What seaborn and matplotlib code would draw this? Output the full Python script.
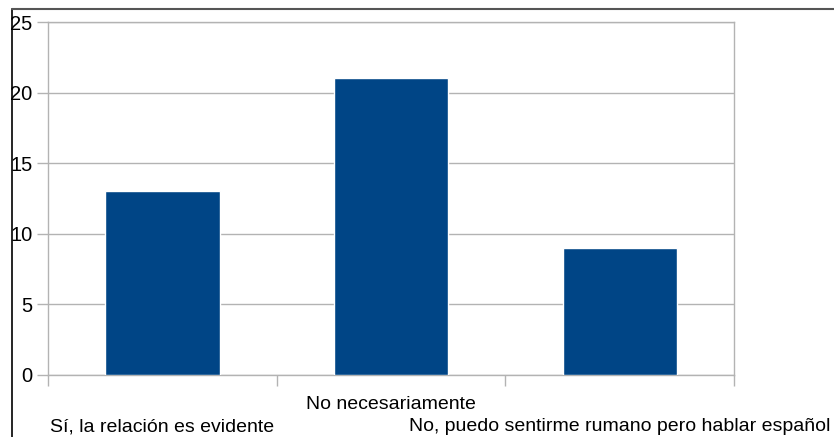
import numpy as np
import pandas as pd
import matplotlib
matplotlib.use("Agg")
import matplotlib.pyplot as plt
from matplotlib.lines import Line2D
from matplotlib.transforms import ScaledTranslation
import seaborn as sns

sns.set_style("white")
plt.rcParams['font.family'] = ['Liberation Sans', 'DejaVu Sans']

categories = ["Sí, la relación es evidente", "No necesariamente",
              "No, puedo sentirme rumano pero hablar español"]
values = [13, 21, 9]

df = pd.DataFrame({"respuesta": categories, "n": values})

fig = plt.figure(figsize=(8.34, 4.37), dpi=100)
ax = fig.add_axes([48/834, 1 - 375/437, (734 - 48)/834, (375 - 22)/437])

sns.barplot(data=df, x="respuesta", y="n", color="#004586", saturation=1,
            width=0.5, ax=ax, zorder=3)

grid = "#b3b3b3"
ax.set_ylim(0, 25)
ax.set_yticks(np.arange(0, 26, 5))
ax.set_xlim(-0.5, 2.5)
ax.yaxis.grid(True, color=grid, linewidth=1, zorder=0)
for s in ax.spines.values():
    s.set_color(grid)
    s.set_linewidth(1)

ax.set_xticks(range(3))
ax.set_xticklabels(categories, fontsize=14, color="black")
ax.set_xticks([-0.5, 0.5, 1.5, 2.5], minor=True)
ax.tick_params(axis="x", which="major", length=0, pad=15, bottom=True)
ax.tick_params(axis="x", which="minor", length=8, color=grid, width=1, bottom=True)
ax.tick_params(axis="y", length=8, color=grid, width=1, labelsize=14.5,
               labelcolor="black", pad=3, left=True)
ax.set_xlabel("")
ax.set_ylabel("")

# staggered labels: first and third on a lower row
for i, lab in enumerate(ax.get_xticklabels()):
    if i != 1:
        lab.set_transform(lab.get_transform() + ScaledTranslation(0, -16/72, fig.dpi_scale_trans))

# outer frame lines
fig.add_artist(Line2D([12/834, 12/834], [0, 1 - 9/437], color="black", linewidth=1.2))
fig.add_artist(Line2D([12/834, 1], [1 - 9/437, 1 - 9/437], color="#555555", linewidth=1.5))

fig.savefig("out.png", dpi=100)
